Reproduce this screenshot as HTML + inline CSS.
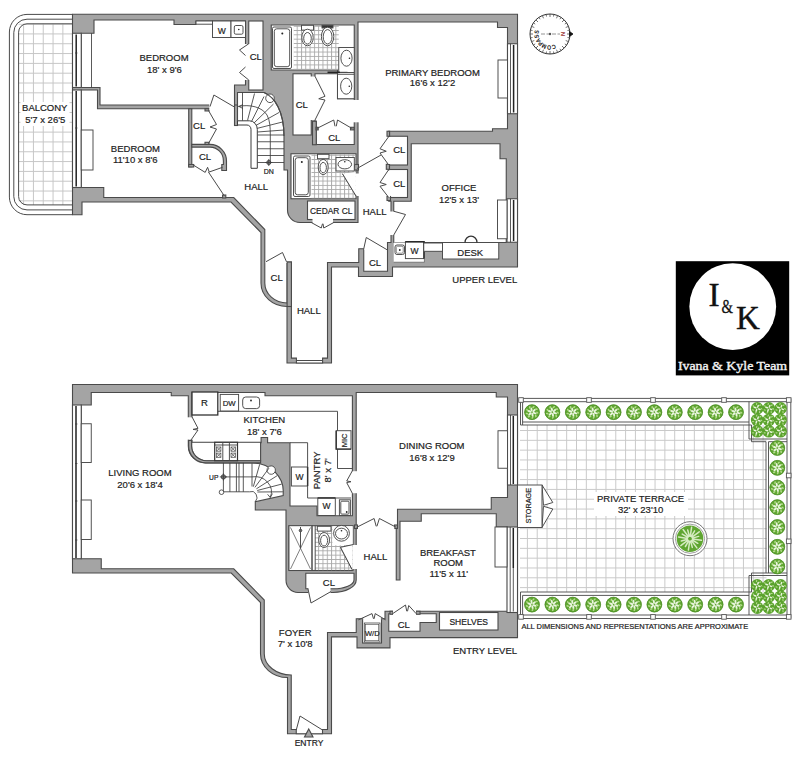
<!DOCTYPE html>
<html lang="en">
<head>
<meta charset="utf-8">
<title>Floor Plan</title>
<style>
html,body{margin:0;padding:0;background:#fff;}
body{width:800px;height:760px;overflow:hidden;}
svg{display:block;}
.w{fill:#a4a4a4;stroke:#4a4a4a;stroke-width:1.1;stroke-linejoin:miter;}
.r{fill:#fff;stroke:#4a4a4a;stroke-width:1.1;}
.e{fill:#fff;stroke:none;}
.l{fill:none;stroke:#4a4a4a;stroke-width:1;}
.t{fill:none;stroke:#3c3c3c;stroke-width:0.85;}
.k{fill:none;stroke:#222;stroke-width:1.5;}
.f{fill:#fff;stroke:#484848;stroke-width:0.95;}
text{font-family:"Liberation Sans",Arial,sans-serif;font-size:9.5px;fill:#222;text-anchor:middle;stroke:#222;stroke-width:0.2px;}
.s{font-size:8.5px;}
</style>
</head>
<body>
<svg width="800" height="760" viewBox="0 0 800 760">
<defs>
<pattern id="gb" x="23.1" y="23.6" width="9.82" height="9.82" patternUnits="userSpaceOnUse"><path d="M0,0.5H9.82M0.5,0V9.82" fill="none" stroke="#c6c6c6" stroke-width="1"/></pattern>
<pattern id="gt" x="526.9" y="430" width="9.82" height="9.82" patternUnits="userSpaceOnUse"><path d="M0,0.5H9.82M0.5,0V9.82" fill="none" stroke="#c9c9c9" stroke-width="1"/></pattern>
<pattern id="tile" x="0" y="0" width="4.3" height="4.3" patternUnits="userSpaceOnUse"><path d="M0,0.5H4.3M0.5,0V4.3" fill="none" stroke="#a8a8a8" stroke-width="0.9"/></pattern>

<g id="bush"><circle r="7.6" fill="#60a632"/><ellipse cx="2.6" cy="0.9" rx="2.1" ry="1.0" transform="rotate(20 2.6 0.9)" fill="#eaf5de"/><ellipse cx="0.5" cy="2.7" rx="2.1" ry="1.0" transform="rotate(80 0.5 2.7)" fill="#eaf5de"/><ellipse cx="-2.1" cy="1.8" rx="2.1" ry="1.0" transform="rotate(140 -2.1 1.8)" fill="#eaf5de"/><ellipse cx="-2.6" cy="-0.9" rx="2.1" ry="1.0" transform="rotate(200 -2.6 -0.9)" fill="#eaf5de"/><ellipse cx="-0.5" cy="-2.7" rx="2.1" ry="1.0" transform="rotate(260 -0.5 -2.7)" fill="#eaf5de"/><ellipse cx="2.1" cy="-1.8" rx="2.1" ry="1.0" transform="rotate(320 2.1 -1.8)" fill="#eaf5de"/><ellipse cx="5.3" cy="0.5" rx="1.4" ry="0.8" transform="rotate(35 5.3 0.5)" fill="#b4dc8c"/><ellipse cx="3.8" cy="3.8" rx="1.4" ry="0.8" transform="rotate(75 3.8 3.8)" fill="#b4dc8c"/><ellipse cx="0.5" cy="5.3" rx="1.4" ry="0.8" transform="rotate(115 0.5 5.3)" fill="#b4dc8c"/><ellipse cx="-3.1" cy="4.4" rx="1.4" ry="0.8" transform="rotate(155 -3.1 4.4)" fill="#b4dc8c"/><ellipse cx="-5.1" cy="1.4" rx="1.4" ry="0.8" transform="rotate(195 -5.1 1.4)" fill="#b4dc8c"/><ellipse cx="-4.8" cy="-2.2" rx="1.4" ry="0.8" transform="rotate(235 -4.8 -2.2)" fill="#b4dc8c"/><ellipse cx="-2.2" cy="-4.8" rx="1.4" ry="0.8" transform="rotate(275 -2.2 -4.8)" fill="#b4dc8c"/><ellipse cx="1.4" cy="-5.1" rx="1.4" ry="0.8" transform="rotate(315 1.4 -5.1)" fill="#b4dc8c"/><ellipse cx="4.4" cy="-3.1" rx="1.4" ry="0.8" transform="rotate(355 4.4 -3.1)" fill="#b4dc8c"/><circle r="7.4" fill="none" stroke="#4c8e26" stroke-width="0.8"/></g>
<g id="dbush"><circle r="6.3" fill="#5aa22d"/><ellipse cx="2.1" cy="0.8" rx="1.7" ry="0.8" transform="rotate(20 2.1 0.8)" fill="#eaf5de"/><ellipse cx="-0.8" cy="2.1" rx="1.7" ry="0.8" transform="rotate(110 -0.8 2.1)" fill="#eaf5de"/><ellipse cx="-2.1" cy="-0.8" rx="1.7" ry="0.8" transform="rotate(200 -2.1 -0.8)" fill="#eaf5de"/><ellipse cx="0.8" cy="-2.1" rx="1.7" ry="0.8" transform="rotate(290 0.8 -2.1)" fill="#eaf5de"/><ellipse cx="4.4" cy="0.4" rx="1.2" ry="0.6" transform="rotate(35 4.4 0.4)" fill="#b4dc8c"/><ellipse cx="2.4" cy="3.7" rx="1.2" ry="0.6" transform="rotate(86 2.4 3.7)" fill="#b4dc8c"/><ellipse cx="-1.4" cy="4.2" rx="1.2" ry="0.6" transform="rotate(138 -1.4 4.2)" fill="#b4dc8c"/><ellipse cx="-4.1" cy="1.6" rx="1.2" ry="0.6" transform="rotate(189 -4.1 1.6)" fill="#b4dc8c"/><ellipse cx="-3.8" cy="-2.3" rx="1.2" ry="0.6" transform="rotate(241 -3.8 -2.3)" fill="#b4dc8c"/><ellipse cx="-0.6" cy="-4.4" rx="1.2" ry="0.6" transform="rotate(292 -0.6 -4.4)" fill="#b4dc8c"/><ellipse cx="3.0" cy="-3.2" rx="1.2" ry="0.6" transform="rotate(344 3.0 -3.2)" fill="#b4dc8c"/></g>
</defs>
<rect width="800" height="760" fill="#fff"/>

<!-- ===================== UPPER LEVEL ===================== -->
<g id="upper">
<!-- balcony -->
<rect x="18.6" y="23.7" width="54" height="181.2" fill="url(#gb)"/>
<path class="l" d="M72.5,14.4H27A17.6,17.6 0 0 0 9.4,32V197.1A17.6,17.6 0 0 0 27,214.7H72.5"/>
<path class="l" d="M72.5,19.2H27A13.2,13.2 0 0 0 13.8,32.4V196.7A13.2,13.2 0 0 0 27,209.9H72.5"/>
<path class="l" d="M72.5,23.8H27A8.4,8.4 0 0 0 18.6,32.2V196.5A8.4,8.4 0 0 0 27,204.9H72.5"/>

<!-- footprint -->
<path class="w" d="M72.5,14.3H517.5V267H392.5V276.5H358.5V267H331.5V363H287V306.5A26,23.5 0 0 1 261,283V232.5L231,202H82V214.7H72.5Z"/>

<!-- white rooms upper -->
<g class="r">
<path d="M81.25,33.25H94V20H174V24.5H196V21H245.5V85H234.5V105H100V87.5H81.25Z"/>
<path d="M81.25,90H97.5V108.75H237.5V92.5H264C275,97 284,112 284,136V170H287.5V210A12.5,12.5 0 0 0 300,222.5H358V22H497.5V27.5H507.5V128.75H492.5V131.25H388.75V201.25H391V242.5H387.5V271.25H363.75V248.75H358.75V262.5H327.5V358.1H322.6V363H296.4V358.1H291.4V262H287.1V303A22.3,20 0 0 1 264.8,283V229.5L233.75,197.5H103.75V187.5H81.25Z"/>
<rect x="248.75" y="21" width="14.25" height="69"/>
<path d="M271.25,25H354.25V98.75H337.5V70H271.25Z"/>
<path d="M315,73.75H337.5V98.75H354.25V144.5H316.25V121.25H315Z"/>
<rect x="293" y="73.75" width="18.25" height="61.25"/>
<rect x="291" y="153.75" width="65" height="45"/>
<rect x="307.5" y="201" width="47.5" height="18.5"/>
<rect x="388.75" y="136.25" width="18.75" height="28.75"/>
<rect x="388.75" y="169.5" width="18.75" height="28"/>
<path d="M411.25,143.75H500V158.75H506.25V242.5H393.75V201.25H411.25Z"/>
<!-- windows -->
<rect x="72.5" y="33.25" width="8.75" height="54.25"/>
<rect x="72.5" y="90" width="8.75" height="97.5"/>
<rect x="507.5" y="43.75" width="10" height="70"/>
<rect x="507" y="198.75" width="10.5" height="43.5"/>
</g>

<!-- grey overlays upper -->
<g class="w">
<rect x="287.1" y="262" width="4.3" height="44.5"/>
<rect x="234.5" y="105" width="3" height="20.5"/>
<rect x="188.7" y="108.75" width="3.1" height="58"/>
<path d="M191.8,144.4H210A16.5,16.5 0 0 1 226.5,161V170.5H221.8V164.5H223.4V161A13.4,13.7 0 0 0 210,147.1H191.8Z"/>
<rect x="205" y="108.75" width="4" height="2.2"/>
<rect x="205" y="142.3" width="4" height="2.2"/>
<rect x="188.7" y="164.5" width="5" height="2.5"/>
<rect x="222.6" y="195" width="3.2" height="3"/>
<rect x="354.5" y="164.5" width="4" height="5.5"/>
<rect x="386.3" y="164.3" width="3.2" height="5"/>
<rect x="387" y="131.25" width="2.6" height="5"/>
<rect x="387" y="196.5" width="3.5" height="4"/>
<rect x="312.5" y="121.25" width="3.75" height="23.5"/>
<rect x="316" y="127.3" width="2.2" height="2.6"/>
<rect x="350.5" y="127.3" width="3.5" height="2.6"/>
</g>
<!-- erasers upper -->
<g class="e">
<rect x="244" y="44" width="6" height="36"/>
<rect x="209.3" y="104" width="24.6" height="6"/>
<rect x="310" y="76.5" width="6" height="43.5"/>
<rect x="353" y="100" width="6" height="22.3"/>
<rect x="355" y="173.5" width="4" height="22.5"/>
<rect x="312.5" y="218" width="20.5" height="6"/>
<rect x="388" y="137" width="2" height="27"/>
<rect x="388" y="170.5" width="2" height="26.5"/>
<rect x="390" y="211.5" width="5" height="23.5"/>
<rect x="364.5" y="248" width="22.5" height="2"/>
<rect x="265.5" y="261" width="21" height="2"/>
</g>
<!-- stairs upper -->
<g class="t">
<circle cx="270" cy="98.3" r="4.3" fill="#fff"/>
<path d="M242.5,92.5V120.8M247.5,120.5L254.5,93.5M251.5,121.5L264,96.5M254,123L273.5,104M255.8,125.5L279,112.5M256.6,128.5L282.5,122M257.3,132L284,130"/>
<path d="M257.3,135H284M257.3,141.75H284M257.3,148.75H284M257.3,155.5H284M257.3,162.5H284"/>
<path d="M238,106.5C250,104 262,107 267,115C270,120 270.3,128 270.3,135V162.5"/>
<path d="M243,104.5L239,106.5L243,108.5"/>
<path d="M264,92.5C275,97 284,112 284,136" stroke="#4a4a4a" stroke-width="1.1"/>
<path class="f" style="stroke:#3a3a3a;stroke-width:1" d="M237.5,120.8H249.4A7.9,8.6 0 0 1 257.3,129.4V168.3H251V129.4A4,4.4 0 0 0 247,125H237.5Z"/>
<circle cx="268.8" cy="162.5" r="2.1" fill="#888"/>
<path d="M268.8,159V166M265.3,162.5H272.3"/>
</g>
<!-- doors upper -->
<g class="l">
<path d="M248.75,43.75L239.5,50L245.5,55.5M245.5,67L239.5,72.5L248.75,80"/>
<path d="M234.4,107L213.9,95L210,106.6"/>
<path d="M208.5,110.5L216.5,124.5L210,127L216.5,129L208.5,143.5"/>
<path d="M193.9,165.4L205.2,172.4L207.6,167.3L209.2,172L222.6,167.3"/>
<path d="M208.4,172L224.2,195.7"/>
<path d="M315,76.25L325,96.25L318.75,98.75M318.75,98.75L325,100L315,120"/>
<path d="M316.25,128.75L333.75,120L335,126.25M352.5,128.75L337.5,120L336.25,126.25"/>
<path d="M342.5,173.75L356,196"/>
<path d="M357,168.5L381,155"/>
<path d="M311.25,222.5L321.25,228L322.5,223.75M333.75,222.5L323.75,228L323,223.75"/>
<path d="M388.75,136.5L380,148.75L386.25,151.25M386.25,151.25L380,153L388.75,165"/>
<path d="M388.75,169.5L380,182.5L386.25,184.5M386.25,184.5L380,186.25L388.75,197.5"/>
<path d="M393.75,211.25L405.5,214.5L393.75,235"/>
<path d="M387.5,250L366.25,237.5L363.75,248.75"/>
<path d="M265.8,261.8L282.5,252.5L286.5,261.8"/>
<path d="M296.4,360.5H322.6"/>
</g>

<!-- fixtures upper -->
<g class="f">
<!-- bedroom1 W / sink -->
<rect x="196" y="21" width="16.5" height="3.2"/>
<rect x="212.5" y="21" width="18.5" height="16.5"/>
<rect x="231" y="21" width="14.5" height="16.5"/>
<rect x="234.3" y="25.5" width="8.7" height="8.7" rx="1.5"/>
<circle cx="238.8" cy="29.5" r="0.8" fill="#222" stroke="none"/>
<!-- bath 1 -->
<rect x="293.75" y="25" width="45" height="45" fill="url(#tile)" stroke="none"/>
<rect x="272.5" y="27" width="19" height="41.5" rx="1.5"/>
<rect x="274.3" y="28.8" width="15.4" height="37.9" rx="2.5"/>
<circle cx="282.3" cy="33.5" r="1" fill="#222" stroke="none"/>
<rect x="301.5" y="25.3" width="12" height="4.8"/>
<ellipse cx="307.5" cy="37.5" rx="5.7" ry="8.3"/>
<ellipse cx="307.5" cy="38.3" rx="3.8" ry="5.8"/>
<rect x="322" y="25.3" width="11" height="2.6" fill="#333"/>
<ellipse cx="327.6" cy="36.5" rx="6.2" ry="9.3"/>
<ellipse cx="327.6" cy="36.8" rx="4.4" ry="7.2"/>
<rect x="338.75" y="47.5" width="15.5" height="25"/>
<ellipse cx="346.5" cy="58.2" rx="5.6" ry="8"/>
<circle cx="349.5" cy="58.2" r="0.8" fill="#222" stroke="none"/>
<rect x="337.5" y="74.25" width="16.75" height="24.5"/>
<ellipse cx="346.2" cy="86.2" rx="5.6" ry="8"/>
<circle cx="349.3" cy="86.2" r="0.8" fill="#222" stroke="none"/>
<!-- bath 2 -->
<rect x="311.5" y="154.3" width="44" height="44" fill="url(#tile)" stroke="none"/>
<path d="M342.5,173.75L355.7,196V172Z" stroke="none"/>
<rect x="293.5" y="156" width="16.5" height="40.5" rx="1.5"/>
<rect x="295.2" y="157.7" width="13.1" height="37.1" rx="2.5"/>
<circle cx="301.8" cy="162" r="1" fill="#222" stroke="none"/>
<rect x="317.5" y="154.3" width="11.5" height="4.4"/>
<ellipse cx="323.2" cy="167" rx="5" ry="7.6"/>
<ellipse cx="323.2" cy="167.6" rx="3.2" ry="5.2"/>
<rect x="336" y="157.5" width="18.3" height="13.5"/>
<ellipse cx="344.8" cy="164.3" rx="6.8" ry="4.6"/>
<circle cx="344.8" cy="161.7" r="0.8" fill="#222" stroke="none"/>
<!-- radiators -->
<rect x="81.25" y="130" width="11.75" height="40"/>
<rect x="498" y="60" width="9.5" height="38"/>
<rect x="497.5" y="200" width="9.5" height="38.75"/>
<!-- office -->
<rect x="393.75" y="242.5" width="30.6" height="19.7" stroke="none"/>
<path d="M393.75,262.2H424.4V258.5" fill="none" stroke-width="0.6"/>
<rect x="395" y="245" width="9.5" height="9.5" rx="2"/>
<rect x="396.3" y="246.3" width="6.9" height="6.9" rx="1.2" stroke-width="0.6"/>
<circle cx="399.8" cy="250" r="0.9" fill="#222" stroke="none"/>
<rect x="405.4" y="241.8" width="18.6" height="16.8"/>
<path d="M405.4,241.8H424V258.6" fill="none" stroke="#2a2a2a" stroke-width="1.5"/>
<rect x="423.75" y="243" width="18.75" height="8.3"/>
<rect x="442.5" y="242.5" width="56.25" height="16.5"/>
<path d="M465,242.5A6,6.3 0 0 1 477,242.5" fill="none" stroke-width="1.3" stroke="#333"/>
</g>
<path class="l" d="M342.5,173.75L356,196" stroke-width="1.3"/>
<path class="k" d="M327.5,72.3H340"/><path class="l" d="M340,72.3H347.5"/>
<!-- window lines -->
<path class="k" d="M76.2,34.5V86.5M76.2,91V186.5M513.6,45V112.5M513.6,200V241"/>
<path class="t" d="M91.5,33.25V87.5M510.5,43.75V113.75M510.5,198.75V242.25"/>

<!-- labels upper -->
<text x="164" y="60.75">BEDROOM</text><text x="164.4" y="72.5">18' x 9'6</text>
<rect x="20.5" y="102" width="49" height="24" fill="#fff"/>
<text x="44.75" y="110.75">BALCONY</text><text x="45.25" y="123">5'7 x 26'5</text>
<text x="135.4" y="152">BEDROOM</text><text x="135.25" y="162.5">11'10 x 8'6</text>
<text x="221.75" y="34.3" class="s">W</text>
<text x="255.75" y="60">CL</text>
<text x="301.75" y="107.5">CL</text>
<text x="334.25" y="140.5">CL</text>
<text x="199.2" y="129.4">CL</text>
<text x="205" y="159.7">CL</text>
<text x="268.75" y="173.75" style="font-size:7px">DN</text>
<text x="256.25" y="190">HALL</text>
<text x="331.25" y="214.25" textLength="42.5" lengthAdjust="spacingAndGlyphs">CEDAR CL</text>
<text x="374.6" y="214.5">HALL</text>
<text x="276.6" y="280.8">CL</text>
<text x="308.8" y="314.3">HALL</text>
<text x="432.5" y="75.5">PRIMARY BEDROOM</text><text x="432.5" y="86.25">16'6 x 12'2</text>
<text x="399.25" y="153">CL</text>
<text x="399.25" y="186.75">CL</text>
<text x="459" y="191.25">OFFICE</text><text x="459" y="203.25">12'5 x 13'</text>
<text x="414.5" y="254.3" class="s">W</text>
<text x="470.25" y="255.5">DESK</text>
<text x="375" y="265.5">CL</text>
<text x="484.75" y="283.25">UPPER LEVEL</text>
</g>

<!-- ===================== ENTRY LEVEL ===================== -->
<g id="lower">
<path class="w" d="M72.5,384.5H517.5V637.6H390V647.9H357V636.9H331.5V733.75H287.5V677.5A27,23.75 0 0 1 260.5,653.75V602.5L231.25,573H72.5Z"/>
<g class="r">
<path d="M81.25,405H91.25V392.5H171.25V395.75H188.3V446A17,16.9 0 0 0 206,462.9H252.4A31,28.6 0 0 1 283.2,493.3V495.5L255.3,501.7V510H286V580A12,12.5 0 0 0 298,592.5H333A23.2,12.5 0 0 0 356.2,580V527.5H396.25V580H400V521.25H421.25V513.75H496.25V527H507.5V611.25H385V618.75H356.25V632.5H327.5V729.5H322.5V733.75H296.25V729.5H291.25V675A27,21.25 0 0 1 264.25,653.75V600L233.75,568.75H101.25V558.75H81.25Z"/>
<path d="M356.2,392.5H496.25V397H507.5V497.5H491.25V509.3H397.5V527.5H356.2Z"/>
<path d="M192,392.5H265V395.75H352.4V515.75H317V506H290V442.7H267.6V437.5H261.1V442.7H192Z"/>
<path d="M191.6,442.3H260.6V460.7H206.5A14.9,14.7 0 0 1 191.6,446Z"/>
<rect x="289" y="525.7" width="64" height="44.8"/>
<path d="M305.8,573.2H354V580A21,8.8 0 0 1 333,588.8H305.8Z"/>
<rect x="362.6" y="619.9" width="18.9" height="23.1"/>
<path d="M388.75,613.75H436.25V622.5H420V631.25H388.75Z"/>
<rect x="439.5" y="612.5" width="58.5" height="17.5"/>
<rect x="72.5" y="405" width="8.75" height="153.75"/>
<rect x="507.5" y="415" width="10" height="70"/>
<rect x="507" y="527" width="10.5" height="85.5"/>
</g>
</g>

<g id="lowerdetail">
<g class="w">
<rect x="390" y="611.25" width="3" height="3"/>
<rect x="416" y="611.25" width="4" height="3"/>
<rect x="354.5" y="525" width="3" height="3.5"/>
<rect x="394.5" y="525" width="3" height="3.5"/>
<path d="M308.75,729L313,737H304.5Z"/>
<path d="M188.6,440.5V446A17.4,16.9 0 0 0 206,462.9H260.6V460.7H206.5A14.9,14.7 0 0 1 191.6,446V440.5Z"/>
</g>
<g class="e">
<rect x="187" y="417.3" width="6" height="22.3"/>
<rect x="351" y="471.2" width="6" height="22"/>
<rect x="358" y="526" width="36.3" height="3"/>
<rect x="352" y="545" width="5" height="24"/>
<rect x="308.5" y="588" width="22" height="6"/>
<rect x="363.2" y="618" width="17.7" height="3"/>
<rect x="393" y="610" width="23" height="5"/>
</g>
<!-- stairs lower -->
<g class="t">
<circle cx="271.2" cy="470.1" r="4.2" fill="#fff"/>
<path d="M223.4,462.9V491.8M229.9,462.9V491.8M236.4,462.9V491.8M239,462.9V491.8M243.3,462.9V491.8M252,463.3V486.5"/>
<path d="M253.3,486.7L259.7,464.3M254.9,487.4L269.0,468.1M256.4,488.8L277.3,475.6M257.2,490.5L281.7,484.1M257.4,492.0L282.9,491.8"/>
<path d="M221.5,491.8H249.5A5.5,6 0 0 1 255.3,501.7"/>
<path d="M223.4,476.9H252A16.5,15.2 0 0 1 270.3,497.3"/>
<path d="M267.6,494.3L270.3,497.6L272.4,493.6"/>
<circle cx="223.4" cy="476.9" r="2.2" fill="#888"/>
<path d="M223.4,473.3V480.5M219.8,476.9H227"/>
<circle cx="221.5" cy="492.2" r="2.3" fill="#fff"/>
</g>
<g class="l">
<path d="M192,416.9L198,428.3L193,429.4M193,429.4L198,430L191,440"/>
<path d="M352.4,470.7L346.7,481L351,481.7M351,481.7L346.7,482.6L352.4,493.4"/>
<path d="M356.7,527.3L374.1,518.5L376.2,526.3M396.2,527.3L379.4,518.5L376.9,526.3"/>
<path d="M352,569.4L340.5,547.3L353,544.6"/>
<path d="M307.9,588.3L311,603L331,591.5" fill="#fff"/>
<path d="M358.3,619.9L372,613.6L373.5,618.8M385.7,619.9L375.2,613.6L374.1,618.8"/>
<path d="M392.5,613.75L405.5,605L406.75,611.25M416.25,613.75L408.75,605.5L407.5,611.25"/>
<path d="M322.5,730L300,716L296.25,730"/>
</g>
<g class="f">
<!-- kitchen -->
<path d="M217.8,411.3H337.5V468.5H352.4" fill="none"/>
<rect x="192" y="392" width="25.8" height="23" stroke="#333" stroke-width="1.3"/>
<rect x="220.2" y="394.4" width="18.4" height="16.6"/>
<rect x="242.7" y="397" width="16.9" height="11.6" rx="3"/>
<circle cx="251" cy="400.5" r="0.9" fill="#222" stroke="none"/>
<rect x="336.2" y="430.7" width="14.8" height="18.4"/>
<path d="M336.2,430.7V449.1H351" fill="none" stroke="#333" stroke-width="1.4"/>
<rect x="214.7" y="442.3" width="22.8" height="18.4" stroke="#333" stroke-width="1.2"/>
<path d="M222.8,442.3V460.7M229.4,442.3V460.7M214.7,445H237.5" fill="none"/>
<g stroke-width="0.7"><rect x="216.5" y="447" width="4.4" height="4.2"/><rect x="216.5" y="453.1" width="4.4" height="4.2"/><rect x="231" y="447" width="4.4" height="4.2"/><rect x="231" y="453.1" width="4.4" height="4.2"/>
<path d="M216.5,447l4.4,4.2m0,-4.2l-4.4,4.2M216.5,453.1l4.4,4.2m0,-4.2l-4.4,4.2M231,447l4.4,4.2m0,-4.2l-4.4,4.2M231,453.1l4.4,4.2m0,-4.2l-4.4,4.2"/></g>
<!-- pantry -->
<path d="M290,442.7H307.6V498H351" fill="none"/>
<rect x="291.4" y="467" width="16.2" height="19"/>
<path d="M307.6,467V486" stroke="#333" stroke-width="1.4"/>
<rect x="317.8" y="498" width="17.5" height="17.5"/>
<path d="M317.8,498H335.3" stroke="#333" stroke-width="1.4"/>
<rect x="339.4" y="499.8" width="11" height="15.7"/>
<rect x="340.8" y="501.2" width="8.2" height="12.9" rx="1"/>
<circle cx="346.7" cy="512" r="0.9" fill="#222" stroke="none"/>
<!-- bath 3 -->
<rect x="315.2" y="526.2" width="37.5" height="44" fill="url(#tile)" stroke="none"/>
<rect x="332.5" y="526.2" width="20.2" height="19" stroke="none"/>
<path d="M340.5,547.3L352.3,569.6V544.8Z" stroke="none"/>
<rect x="289" y="525.7" width="23" height="44.8"/>
<path d="M312,525.7V570.5M315.2,525.7V570.5" fill="none"/>
<path d="M290.5,527.5L310.5,569M310.5,527.5L290.5,569" fill="none" stroke-width="0.7"/>
<path d="M300.5,527V548" fill="none"/><circle cx="300.5" cy="530.5" r="1.3" fill="#666"/>
<rect x="317.3" y="526.3" width="13.7" height="4.8"/>
<ellipse cx="324.1" cy="540" rx="5.4" ry="7.5"/>
<ellipse cx="324.1" cy="540.6" rx="3.5" ry="5.4"/>
<circle cx="341.5" cy="533.3" r="7.9"/>
<ellipse cx="341.5" cy="533.6" rx="6" ry="5.4"/>
<circle cx="341.5" cy="530.8" r="0.8" fill="#222" stroke="none"/>
<!-- W/D -->
<rect x="364.3" y="623" width="15.7" height="19" stroke-width="0.8"/>
<rect x="365.6" y="624.3" width="13.1" height="16.4" stroke-width="0.6"/>
<!-- radiators -->
<rect x="81.25" y="423.75" width="10" height="38.75"/>
<rect x="81.25" y="500" width="10" height="39.5"/>
<rect x="498" y="430.75" width="9.5" height="37.5"/>
<rect x="495" y="527" width="12" height="40"/>
</g>
<path class="l" d="M352,569.4L340.5,547.3L353,544.6" stroke-width="1.2"/>
<path class="k" d="M76,406V558M513.3,416V484M513.3,528V568"/><path class="t" d="M513.3,568V611.5M75,424h2.4M75,463.5h2.4M75,501h2.4M75,540h2.4M75,53h2.4M75,128h2.4"/>
<path class="t" d="M510.5,415V485M510.2,527V612.5"/>
<text x="140" y="476.25">LIVING ROOM</text><text x="140" y="487.5">20'6 x 18'4</text>
<text x="204.5" y="405.8">R</text>
<text x="229.2" y="406.3" style="font-size:7.8px">DW</text>
<text x="264.3" y="422.8">KITCHEN</text><text x="264.4" y="434.9">18' x 7'6</text>
<text x="213.7" y="480" style="font-size:6.7px">UP</text>
<text transform="translate(347.3,440.4) rotate(-90)" style="font-size:7.5px">MIC</text>
<text transform="translate(319.7,470.3) rotate(-90)">PANTRY</text>
<text transform="translate(330.8,470.3) rotate(-90)">8' x 7'</text>
<text x="299.4" y="479.7" class="s">W</text>
<text x="326.5" y="509.3" class="s">W</text>
<text x="431.75" y="448.75">DINING ROOM</text><text x="432" y="460.5">16'8 x 12'9</text>
<text x="375.4" y="559.5">HALL</text>
<text x="447.9" y="555.5">BREAKFAST</text><text x="448.25" y="566.25">ROOM</text><text x="448.75" y="577">11'5 x 11'</text>
<text x="328.9" y="586.2">CL</text>
<text x="295.2" y="636.3">FOYER</text><text x="295.2" y="647.2">7' x 10'8</text>
<text x="372.3" y="636" style="font-size:7.5px">W/D</text>
<text x="403.75" y="627.5">CL</text>
<text x="468.75" y="624.7" class="s">SHELVES</text>
<text x="485" y="654.25">ENTRY LEVEL</text>
<text x="309" y="746" class="s">ENTRY</text>
</g>

<!-- ===================== TERRACE ===================== -->
<g id="terrace">
<rect x="520" y="425" width="246.5" height="167" fill="url(#gt)"/>
<g fill="none" stroke="#505050" stroke-width="0.95">
<path d="M520.5,398.4H790.8V618.5H520.5"/>
<path d="M520.5,401.7H787V615H520.5"/>
<path d="M520.5,401.7V425M522.6,401.7V425M520.5,592V618.5M522.6,595.4V615"/>
<path d="M522.6,422H749M520.5,425H751.5"/>
<path d="M749,401.7V439H787M751.5,425V441.7H766M768.5,441.7H787"/>
<path d="M766,441.7V573M768.5,441.7V573"/>
<path d="M749,615V575.5H787M751.5,592V573H787"/>
<path d="M522.6,595.4H749M520.5,592H751.5"/>
</g>
<use href="#bush" x="532.0" y="412.2"/><use href="#bush" x="532.0" y="604.6"/><use href="#bush" x="552.4" y="412.2"/><use href="#bush" x="552.4" y="604.6"/><use href="#bush" x="572.8" y="412.2"/><use href="#bush" x="572.8" y="604.6"/><use href="#bush" x="593.2" y="412.2"/><use href="#bush" x="593.2" y="604.6"/><use href="#bush" x="613.6" y="412.2"/><use href="#bush" x="613.6" y="604.6"/><use href="#bush" x="634.0" y="412.2"/><use href="#bush" x="634.0" y="604.6"/><use href="#bush" x="654.4" y="412.2"/><use href="#bush" x="654.4" y="604.6"/><use href="#bush" x="674.8" y="412.2"/><use href="#bush" x="674.8" y="604.6"/><use href="#bush" x="695.2" y="412.2"/><use href="#bush" x="695.2" y="604.6"/><use href="#bush" x="715.6" y="412.2"/><use href="#bush" x="715.6" y="604.6"/><use href="#bush" x="736.0" y="412.2"/><use href="#bush" x="736.0" y="604.6"/><use href="#bush" x="777.3" y="448.0"/><use href="#bush" x="777.3" y="467.8"/><use href="#bush" x="777.3" y="487.5"/><use href="#bush" x="777.3" y="507.2"/><use href="#bush" x="777.3" y="527.0"/><use href="#bush" x="777.3" y="546.8"/><use href="#bush" x="777.3" y="566.5"/><use href="#dbush" x="757.2" y="408.4"/><use href="#dbush" x="768.8" y="408.4"/><use href="#dbush" x="780.6" y="408.4"/><use href="#dbush" x="757.2" y="420"/><use href="#dbush" x="768.8" y="420"/><use href="#dbush" x="780.6" y="420"/><use href="#dbush" x="757.2" y="431.3"/><use href="#dbush" x="768.8" y="431.3"/><use href="#dbush" x="780.6" y="431.3"/><use href="#dbush" x="757.2" y="585.4"/><use href="#dbush" x="768.8" y="585.4"/><use href="#dbush" x="780.6" y="585.4"/><use href="#dbush" x="757.2" y="596.6"/><use href="#dbush" x="768.8" y="596.6"/><use href="#dbush" x="780.6" y="596.6"/><use href="#dbush" x="757.2" y="607.6"/><use href="#dbush" x="768.8" y="607.6"/><use href="#dbush" x="780.6" y="607.6"/>

<g fill="#fff" stroke="#555" stroke-width="0.9"><rect x="518.7" y="397.7" width="4.6" height="4.6"/><rect x="518.7" y="614.6" width="4.6" height="4.6"/><rect x="586.7" y="397.7" width="4.6" height="4.6"/><rect x="586.7" y="614.6" width="4.6" height="4.6"/><rect x="650.7" y="397.7" width="4.6" height="4.6"/><rect x="650.7" y="614.6" width="4.6" height="4.6"/><rect x="721.7" y="397.7" width="4.6" height="4.6"/><rect x="721.7" y="614.6" width="4.6" height="4.6"/><rect x="786.4" y="397.7" width="4.6" height="4.6"/><rect x="786.4" y="614.6" width="4.6" height="4.6"/><rect x="786.4" y="473.2" width="4.6" height="4.6"/><rect x="786.4" y="539.0" width="4.6" height="4.6"/></g>
<!-- pot -->
<circle cx="690" cy="538.7" r="17" fill="#fff" stroke="#777" stroke-width="1"/>
<circle cx="690" cy="538.7" r="14.6" fill="#fff" stroke="#888" stroke-width="0.8"/>
<circle cx="690" cy="538.7" r="13.3" fill="#5fa531"/>
<path d="M692.5,539.0L701.4,540.3M692.2,540.0L697.8,543.3M691.5,540.7L696.9,547.9M690.6,541.1L692.3,547.4M689.7,541.2L688.4,550.1M688.7,540.9L685.4,546.5M688.0,540.2L680.8,545.6M687.6,539.3L681.3,541.0M687.5,538.4L678.6,537.1M687.8,537.4L682.2,534.1M688.5,536.7L683.1,529.5M689.4,536.3L687.7,530.0M690.3,536.2L691.6,527.3M691.3,536.5L694.6,530.9M692.0,537.2L699.2,531.8M692.4,538.1L698.7,536.4" stroke="#d6ebc2" stroke-width="1.5" stroke-linecap="round" fill="none"/>
<!-- storage -->
<g class="f">
<path d="M542,485L552.8,502.5L543.5,505.3Z"/>
<path d="M542,527.5L552.8,509L543.5,506.3Z"/>
<rect x="517.5" y="485" width="24.5" height="42.5"/>
</g>
<rect x="594" y="492" width="94" height="24" fill="#fff"/>
<text transform="translate(530.6,505.6) rotate(-90)" style="font-size:7.3px">STORAGE</text>
<text x="640.6" y="501.75">PRIVATE TERRACE</text><text x="640.6" y="513.25">32' x 23'10</text>
<text x="634.8" y="628.5" style="font-size:7.3px" textLength="226.8" lengthAdjust="spacingAndGlyphs">ALL DIMENSIONS AND REPRESENTATIONS ARE APPROXIMATE</text>
</g>

<!-- ===================== LOGO ===================== -->
<g id="logo">
<rect x="675.8" y="261.2" width="113.4" height="114.2" fill="#000"/>
<circle cx="732.75" cy="306.6" r="43.4" fill="#fff"/>
<g style="font-family:'Liberation Serif','Times New Roman',serif">
<text x="714" y="305.9" style="font-family:inherit;font-size:33.4px;fill:#111;stroke:#111;stroke-width:0.4px">I</text>
<text x="727.35" y="312.8" style="font-family:inherit;font-size:19px;fill:#111;stroke:#111;stroke-width:0.3px" textLength="11.5" lengthAdjust="spacingAndGlyphs">&amp;</text>
<text x="747.9" y="328.5" style="font-family:inherit;font-size:33px;fill:#111;stroke:#111;stroke-width:0.4px">K</text>
<text x="732.5" y="370.2" style="font-family:inherit;font-size:11.8px;fill:#f4f4f4;font-weight:normal;stroke:#f4f4f4;stroke-width:0.35px" textLength="109.2" lengthAdjust="spacingAndGlyphs">Ivana &amp; Kyle Team</text>
</g>
</g>

<!-- ===================== COMPASS ===================== -->
<g id="compass">
<circle cx="550" cy="34" r="20" fill="#fff" stroke="#333" stroke-width="1"/>
<path d="M567.0,34.0L570.0,34.0M567.5,37.5L569.6,37.9M565.7,40.5L568.5,41.7M564.8,43.9L566.6,45.1M562.0,46.0L564.1,48.1M559.9,48.8L561.1,50.6M556.5,49.7L557.7,52.5M553.5,51.5L553.9,53.6M550.0,51.0L550.0,54.0M546.5,51.5L546.1,53.6M543.5,49.7L542.3,52.5M540.1,48.8L538.9,50.6M538.0,46.0L535.9,48.1M535.2,43.9L533.4,45.1M534.3,40.5L531.5,41.7M532.5,37.5L530.4,37.9M533.0,34.0L530.0,34.0M532.5,30.5L530.4,30.1M534.3,27.5L531.5,26.3M535.2,24.1L533.4,22.9M538.0,22.0L535.9,19.9M540.1,19.2L538.9,17.4M543.5,18.3L542.3,15.5M546.5,16.5L546.1,14.4M550.0,17.0L550.0,14.0M553.5,16.5L553.9,14.4M556.5,18.3L557.7,15.5M559.9,19.2L561.1,17.4M562.0,22.0L564.1,19.9M564.8,24.1L566.6,22.9M565.7,27.5L568.5,26.3M567.5,30.5L569.6,30.1" stroke="#333" stroke-width="0.7" fill="none"/>
<path d="M541,34H560" stroke="#888" stroke-width="0.9" stroke-dasharray="4 1.5" fill="none"/>
<circle cx="550" cy="34" r="1.2" fill="#555"/>
<path d="M569.5,31.5L573,34L569.5,36.5Z" fill="#111" stroke="#111" stroke-width="0.8"/>
<path id="carc" d="M 555.0,44.2 A 11.3,11.3 0 0 1 539.4,30.1" fill="none"/>
<text style="font-size:6.2px;font-weight:bold;fill:#111;text-anchor:start;stroke:none"><textPath href="#carc" startOffset="0" textLength="26" lengthAdjust="spacingAndGlyphs">COMPASS</textPath></text>
<text transform="translate(561.2,34) rotate(90)" style="font-size:6px;font-weight:bold;fill:#9c3a36;stroke:none">N</text>
</g>

</svg>
</body>
</html>
